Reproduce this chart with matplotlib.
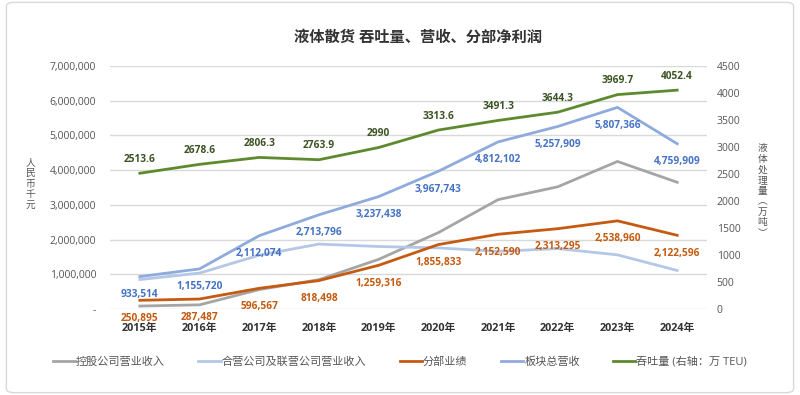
import matplotlib
matplotlib.use("Agg")
import matplotlib.pyplot as plt
from matplotlib.patches import FancyBboxPatch
from matplotlib.ticker import FuncFormatter

plt.rcParams['font.family'] = ['Open Sans', 'Noto Sans CJK SC', 'DejaVu Sans']

# data
years = ["2015年", "2016年", "2017年", "2018年", "2019年", "2020年", "2021年", "2022年", "2023年", "2024年"]
holding_rev = [85000, 120000, 560000, 845000, 1430000, 2200000, 3150000, 3520000, 4250000, 3650000]
jv_rev = [848000, 1035000, 1550000, 1870000, 1800000, 1760000, 1660000, 1740000, 1560000, 1110000]
segment_profit = [250895, 287487, 596567, 818498, 1259316, 1855833, 2152590, 2313295, 2538960, 2122596]
total_rev = [933514, 1155720, 2112074, 2713796, 3237438, 3967743, 4812102, 5257909, 5807366, 4759909]
throughput = [2513.6, 2678.6, 2806.3, 2763.9, 2990, 3313.6, 3491.3, 3644.3, 3969.7, 4052.4]

c_gray = "#A5A5A5"
c_ltblue = "#B4C7E7"
c_orange = "#C55A11"
c_blue = "#8FAADC"
c_blue_txt = "#4472C4"
c_green = "#5E8A2E"
c_green_txt = "#3B5323"

fig = plt.figure(figsize=(8, 3.95), dpi=100)

# outer frame
fig.patches.append(FancyBboxPatch((0.008, 0.006), 0.984, 0.988, boxstyle="round,pad=0,rounding_size=0.01",
                                  transform=fig.transFigure, fill=False, edgecolor="#D9D9D9", lw=1))

ax = fig.add_axes([0.1375, 0.2177, 0.7463, 0.6153])
ax2 = ax.twinx()

x = range(len(years))
l1, = ax.plot(x, holding_rev, color=c_gray, lw=2, label="控股公司营业收入")
l2, = ax.plot(x, jv_rev, color=c_ltblue, lw=2, label="合营公司及联营公司营业收入")
l3, = ax.plot(x, segment_profit, color=c_orange, lw=2, label="分部业绩")
l4, = ax.plot(x, total_rev, color=c_blue, lw=2, label="板块总营收")
l5, = ax2.plot(x, throughput, color=c_green, lw=2, label="吞吐量 (右轴：万 TEU)")

ax.set_xlim(-0.5, 9.5)
ax.set_ylim(0, 7000000)
ax2.set_ylim(0, 4500)
ax.set_yticks(range(0, 7000001, 1000000))
ax2.set_yticks(range(0, 4501, 500))
ax.yaxis.set_major_formatter(FuncFormatter(lambda v, p: "-" if v == 0 else f"{int(v):,}"))

ax.set_xticks(list(x))
ax.set_xticklabels(years, fontsize=7.8, fontweight="bold", color="#333333")
ax.tick_params(axis="x", length=0, pad=10)
ax.tick_params(axis="y", length=0, labelsize=7.5, labelcolor="#555555", pad=10)
ax2.tick_params(axis="y", length=0, labelsize=7.5, labelcolor="#555555", pad=7)

ax.grid(axis="y", color="#D9D9D9", lw=1)
ax.set_axisbelow(True)
for a in (ax, ax2):
    for s in a.spines.values():
        s.set_visible(False)

# data labels
for i in x:
    ax.annotate(f"{total_rev[i]:,}", (i, total_rev[i]), xytext=(0, -9), textcoords="offset points",
                ha="center", va="top", fontsize=7.3, fontweight="bold", color=c_blue_txt)
    ax.annotate(f"{segment_profit[i]:,}", (i, segment_profit[i]), xytext=(0, -9), textcoords="offset points",
                ha="center", va="top", fontsize=7.3, fontweight="bold", color=c_orange)
    ax2.annotate(f"{throughput[i]:g}", (i, throughput[i]), xytext=(0, 6), textcoords="offset points",
                 ha="center", va="bottom", fontsize=7.3, fontweight="bold", color=c_green_txt)

fig.text(0.522, 0.905, "液体散货 吞吐量、营收、分部净利润", ha="center", va="center",
         fontsize=11, fontweight="bold", color="#333333")
fig.text(0.038, 0.534, "\n".join("人民币千元"), ha="center", va="center", fontsize=7,
         color="#555555", linespacing=0.95)
fig.text(0.953, 0.516, "\n".join("液体处理量︵万吨︶"), ha="center", va="center", fontsize=7,
         color="#555555", linespacing=0.95)

fig.legend(handles=[l1, l2, l3, l4, l5], loc="center", bbox_to_anchor=(0.5, 0.083), ncol=5,
           frameon=False, fontsize=8, handlelength=2.0, handletextpad=0.1, columnspacing=3.0,
           labelcolor="#555555")

fig.savefig("out.png", dpi=100)
